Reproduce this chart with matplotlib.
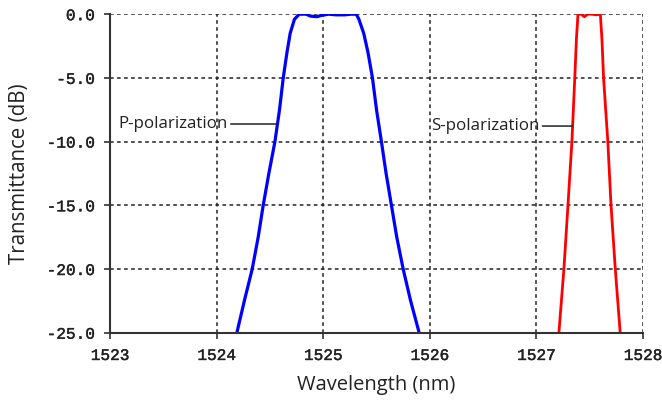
import matplotlib
matplotlib.use("Agg")
import matplotlib.pyplot as plt
import matplotlib.patheffects as pe

plt.rcParams['axes.unicode_minus'] = False

# P-polarization transmittance (wavelength nm, dB)
p_wl = [1524.19, 1524.26, 1524.334, 1524.39, 1524.437, 1524.49, 1524.547, 1524.59,
        1524.625, 1524.66, 1524.69, 1524.73, 1524.775, 1524.84, 1524.88, 1524.94,
        1524.98, 1525.05, 1525.12, 1525.20, 1525.26, 1525.31, 1525.335, 1525.38,
        1525.42, 1525.462, 1525.50, 1525.546, 1525.59, 1525.64, 1525.69, 1525.75,
        1525.82, 1525.90]
p_db = [-25, -22.5, -20, -17.5, -15, -12.5, -10, -7.5,
        -5, -3, -1.5, -0.4, 0.0, 0.0, -0.15, -0.2,
        -0.1, 0.0, -0.05, -0.05, 0.0, 0.0, -0.4, -1.5,
        -3, -5, -7.5, -10, -12.5, -15, -17.5, -20,
        -22.5, -25]

# S-polarization transmittance
s_wl = [1527.211, 1527.258, 1527.296, 1527.333, 1527.36, 1527.375, 1527.39, 1527.42,
        1527.45, 1527.48, 1527.52, 1527.56, 1527.60, 1527.615, 1527.63, 1527.67,
        1527.70, 1527.74, 1527.786]
s_db = [-25, -20, -15, -10, -5, -2, 0, 0,
        -0.2, 0, 0, -0.05, 0, -2, -5, -10,
        -15, -20, -25]

x_ticks = [1523, 1524, 1525, 1526, 1527, 1528]
y_ticks = [-25.0, -20.0, -15.0, -10.0, -5.0, 0.0]
y_tick_labels = ['-25.0', '-20.0', '-15.0', '-10.0', '-5.0', '0.0']

fig = plt.figure(figsize=(6.62, 4.01), dpi=100)
ax = fig.add_axes([0.1662, 0.1703, 0.8051, 0.7943])

ax.plot(p_wl, p_db, color='#0000ff', lw=2.3, solid_joinstyle='round')
ax.plot(s_wl, s_db, color='#ff0000', lw=2.0, solid_joinstyle='round')

ax.set_xlim(1523, 1528)
ax.set_ylim(-25, 0)
ax.set_xticks(x_ticks)
ax.set_xticklabels([str(t) for t in x_ticks])
ax.set_yticks(y_ticks)
ax.set_yticklabels(y_tick_labels)

ax.grid(True, color='#222222', linestyle=(0, (2.4, 2.2)), linewidth=1.1)
ax.set_axisbelow(True)

for s in ['top', 'right']:
    ax.spines[s].set_visible(False)
for s in ['left', 'bottom']:
    ax.spines[s].set_color('#333333')
    ax.spines[s].set_linewidth(1.5)

ax.tick_params(direction='out', length=4, width=1.2, color='#333333',
               labelsize=11.6, labelcolor='#222222', pad=7)
for lab in ax.get_xticklabels() + ax.get_yticklabels():
    lab.set_family('Liberation Mono')
    lab.set_weight('normal')
    lab.set_path_effects([pe.withStroke(linewidth=0.3, foreground='#222222')])

ax.set_xlabel('Wavelength (nm)', fontsize=14.5, family='Open Sans', color='#222222', labelpad=9)
ax.set_ylabel('Transmittance (dB)', fontsize=14.8, family='Open Sans', color='#222222', labelpad=12)

ax.annotate('P-polarization', xy=(1524.57, -8.62), xytext=(1524.106, -8.62),
            ha='right', va='center', fontsize=12.2, family='Open Sans', color='#222222',
            arrowprops=dict(arrowstyle='-', color='#222222', lw=1.1, shrinkA=0, shrinkB=0))
ax.annotate('S-polarization', xy=(1527.34, -8.78), xytext=(1527.03, -8.78),
            ha='right', va='center', fontsize=12.2, family='Open Sans', color='#222222',
            arrowprops=dict(arrowstyle='-', color='#222222', lw=1.1, shrinkA=0, shrinkB=0))

fig.savefig('out.png', dpi=100)
